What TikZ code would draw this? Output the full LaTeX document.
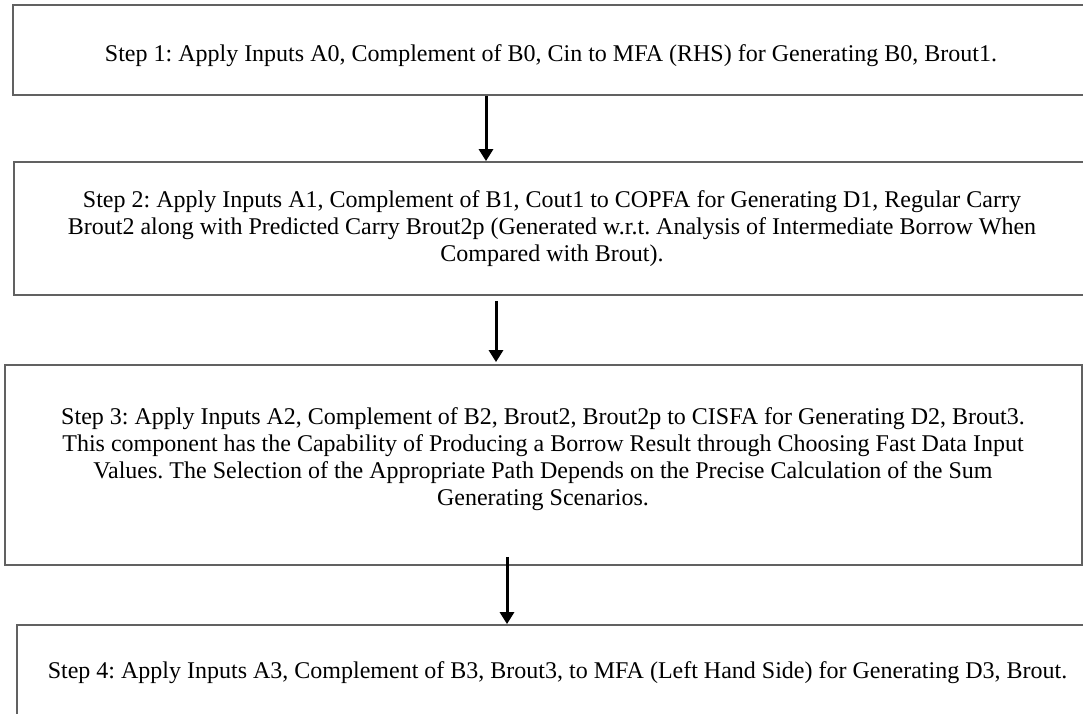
\documentclass[tikz,border=0pt]{standalone}
\usepackage{fontspec}
\setmainfont{Liberation Serif}
\usetikzlibrary{arrows.meta}
\begin{document}
\frenchspacing
\begin{tikzpicture}[x=1pt,y=-1pt,
  box/.style={draw=black!62, line width=1.8pt, inner sep=0pt, fill=none},
  txt/.style={font=\fontsize{24}{27}\selectfont, align=center, inner sep=0pt},
  arr/.style={line width=3pt, -{Triangle[width=14pt,length=12pt]}}]
\useasboundingbox (0,0) rectangle (1083,713);
\clip (0,0) rectangle (1083,713);
\fill[white] (0,0) rectangle (1083,713);
% boxes
\node[box, minimum width=1080pt, minimum height=90pt] (b1) at (553,50) {};
\node[box, minimum width=1080pt, minimum height=133pt] (b2) at (554,228.5) {};
\node[box, minimum width=1077pt, minimum height=200pt] (b3) at (543.5,465) {};
\node[box, minimum width=1083pt, minimum height=105pt] (b4) at (558.5,677.5) {};
% texts
\node[txt] (t1) at (551,56) {Step 1: Apply Inputs A0, Complement of B0, Cin to MFA (RHS) for Generating B0, Brout1.};
\node[txt] (t2) at (552,229) {Step 2: Apply Inputs A1, Complement of B1, Cout1 to COPFA for Generating D1, Regular Carry\\
Brout2 along with Predicted Carry Brout2p (Generated w.r.t. Analysis of Intermediate Borrow When\\
Compared with Brout).};
\node[txt] (t3) at (543,459) {Step 3: Apply Inputs A2, Complement of B2, Brout2, Brout2p to CISFA for Generating D2, Brout3.\\
This component has the Capability of Producing a Borrow Result through Choosing Fast Data Input\\
Values. The Selection of the Appropriate Path Depends on the Precise Calculation of the Sum\\
Generating Scenarios.};
\node[txt] (t4) at (557.5,673) {Step 4: Apply Inputs A3, Complement of B3, Brout3, to MFA (Left Hand Side) for Generating D3, Brout.};
% arrows
\coordinate (x1) at (486,0);
\coordinate (x2) at (496,0);
\coordinate (x3) at (507,0);
\draw[arr] (x1 |- b1.south) -- (x1 |- b2.north);
\draw[arr] ([yshift=-5pt]x2 |- b2.south) -- ([yshift=2pt]x2 |- b3.north);
\draw[arr] ([yshift=9pt]x3 |- b3.south) -- (x3 |- b4.north);
\end{tikzpicture}
\end{document}
